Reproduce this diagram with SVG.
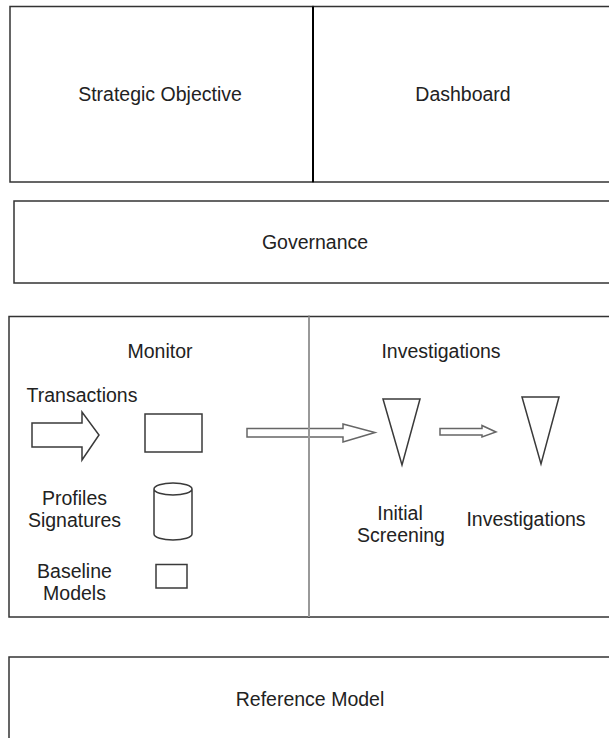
<svg xmlns="http://www.w3.org/2000/svg" width="609" height="738" viewBox="0 0 609 738">
  <style>
    .box { fill: #ffffff; stroke: #333333; stroke-width: 1.5; }
    .shape { fill: #ffffff; stroke: #3a3a3a; stroke-width: 1.5; stroke-linejoin: miter; }
    .flow { fill: #ffffff; stroke: #666666; stroke-width: 1.5; }
    .label { font-family: "Liberation Sans", Arial, Helvetica, sans-serif; font-size: 19.5px; fill: #222222; text-anchor: middle; }
  </style>
  <rect width="609" height="738" fill="#ffffff"/>

  <!-- Top band: strategic objective and dashboard -->
  <g id="strategic-objective">
    <rect class="box" x="10" y="6.5" width="303" height="175.5"/>
    <text class="label" x="160" y="101">Strategic Objective</text>
  </g>
  <g id="dashboard">
    <rect class="box" x="313" y="6.5" width="320" height="175.5"/>
    <text class="label" x="463" y="101">Dashboard</text>
  </g>
  <line x1="313" y1="6.5" x2="313" y2="182" stroke="#000000" stroke-width="2"/>

  <!-- Governance band -->
  <g id="governance">
    <rect class="box" x="14" y="201" width="620" height="82"/>
    <text class="label" x="315" y="249">Governance</text>
  </g>

  <!-- Monitor / Investigations band -->
  <g id="monitor">
    <rect class="box" x="9" y="316.5" width="300" height="300.5"/>
    <text class="label" x="160" y="358">Monitor</text>
  </g>
  <g id="investigations-panel">
    <rect class="box" x="309" y="316.5" width="320" height="300.5"/>
    <text class="label" x="441" y="358">Investigations</text>
  </g>

  <g id="transactions">
    <text class="label" x="82" y="402">Transactions</text>
    <polygon class="shape" points="32,423 82,423 82,412 99,435 82,460 82,447 32,447"/>
  </g>
  <g id="transaction-store">
    <rect class="shape" x="145" y="414" width="57" height="38" stroke="#555555"/>
  </g>
  <g id="profiles-signatures">
    <text class="label" x="74.5" y="505">Profiles</text>
    <text class="label" x="74.5" y="527">Signatures</text>
    <path class="shape" d="M154,489 L154,534 A19,6 0 0 0 192,534 L192,489 A19,6 0 0 0 154,489 A19,6 0 0 0 192,489"/>
  </g>
  <g id="baseline-models">
    <text class="label" x="74.5" y="578">Baseline</text>
    <text class="label" x="74.5" y="600">Models</text>
    <rect class="shape" x="156" y="564.5" width="31" height="23.5"/>
  </g>

  <g id="initial-screening">
    <polygon class="shape" points="383,399 420,399 402,465"/>
    <text class="label" x="400" y="520">Initial</text>
    <text class="label" x="401" y="542">Screening</text>
  </g>
  <g id="investigations">
    <polygon class="shape" points="522,397 559,397 541,464"/>
    <text class="label" x="526" y="526">Investigations</text>
  </g>

  <!-- Connectors -->
  <g id="connectors">
    <polygon class="flow" points="247,428.5 343,428.5 343,424 375,432.5 343,442 343,437 247,437"/>
    <polygon class="flow" points="440,428.5 482,428.5 482,425.5 496,432 482,437 482,435 440,435"/>
  </g>

  <!-- Panel divider drawn over the hand-off arrow -->
  <line x1="309" y1="316.5" x2="309" y2="617" stroke="#999999" stroke-width="2"/>

  <!-- Bottom band -->
  <g id="reference-model">
    <rect class="box" x="9" y="657" width="620" height="100"/>
    <text class="label" x="310" y="706">Reference Model</text>
  </g>
</svg>
